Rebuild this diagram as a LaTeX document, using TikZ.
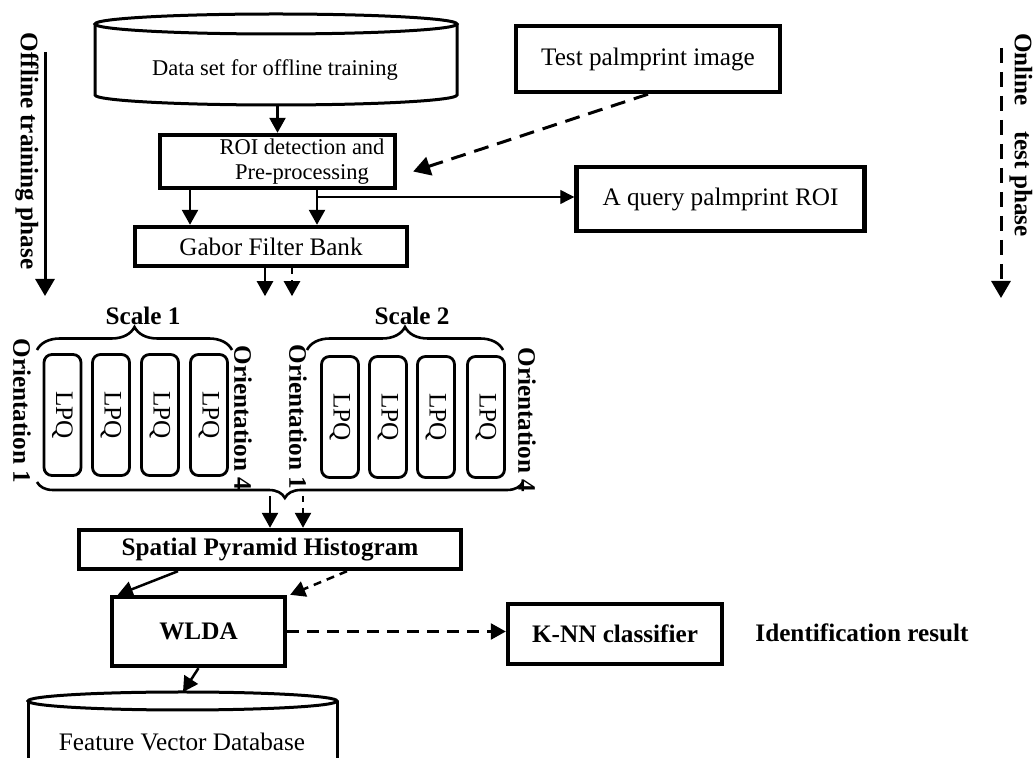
\documentclass[tikz,border=0pt]{standalone}
\usepackage{fontspec}
\setmainfont{Liberation Serif}
\usetikzlibrary{arrows.meta,decorations.pathreplacing}

\begin{document}
\begin{tikzpicture}[x=0.5pt,y=-0.5pt,
    box/.style={draw, line width=2.2pt, inner sep=0pt, align=center},
    lpqbox/.style={draw, line width=1.4pt, rounded corners=4pt, rotate=-90, inner sep=0pt, minimum width=60.5pt, minimum height=18.5pt},
    vlabel/.style={rotate=-90, font=\bfseries, inner sep=1pt},
    arr/.style={line width=1.25pt, -{Triangle[length=7.5pt,width=8pt]}},
    darr/.style={arr, dash pattern=on 4pt off 3pt},
    thinarr/.style={line width=0.6pt, -{Triangle[length=7pt,width=7pt]}},
    bigarr/.style={line width=1.5pt, -{Triangle[length=8.5pt,width=9.5pt]}},
    bigdarr/.style={bigarr, dash pattern=on 7.5pt off 4.5pt},
    brc/.style={decorate, decoration={brace, amplitude=11.5pt}, line width=1.3pt}]
                        \useasboundingbox (0,0) rectangle (1035,758);
                        {\fontsize{12.6}{14.5}\selectfont

                        % Drawing cylinder Data set
                        \draw [line width=1.5pt] (95,24) -- (95,95) arc[start angle=180, end angle=0, x radius=181, y radius=10] -- (457,24);%
                        \draw [line width=1.5pt] (276,24) ellipse[x radius=181, y radius=10];%
                        \node [font=\fontsize{11.25}{13.5}\selectfont] (dataset) at (275,70) {Data set for offline training};%
                        \coordinate (dsbot) at (277.5,105);%

                        % Drawing boxes of the upper part
                        \node [box, minimum width=132pt, minimum height=33pt] (test) at (648,59) {Test palmprint image};%
                        \node [box, minimum width=117.5pt, minimum height=26.5pt] (roi) at (277.5,161.5) {};%
                        \node [font=\fontsize{11.25}{12.5}\selectfont, align=center] (roitext) at (302,162) {ROI detection and\\Pre-processing};%
                        \node [box, minimum width=136pt, minimum height=19.5pt] (gabor) at (271,246.5) {Gabor Filter Bank};%
                        \node [box, minimum width=144pt, minimum height=32pt] (query) at (720.5,199) {A query palmprint ROI};%

                        % Drawing arrows of the upper part
                        \draw [arr] (dsbot) -- (roi.north);%
                        \draw [bigdarr] (test.south) -- ([xshift=8pt,yshift=-5pt]roi.east);%
                        \draw [arr] ([xshift=-43.75pt]roi.south) -- ([xshift=-43.75pt]roi.south |- gabor.north);%
                        \coordinate (split) at (317,197);%
                        \draw [line width=1pt] (split |- roi.south) -- (split);%
                        \draw [arr] (split) -- (split |- gabor.north);%
                        \draw [thinarr] (split) -- (split -| query.west);%
                        \draw [arr] ([xshift=-3pt]gabor.south) -- ++(0,28);%
                        \draw [darr, dash pattern=on 3pt off 3pt] ([xshift=10.5pt]gabor.south) -- ++(0,28);%

                        % Marking the two phases
                        \node [vlabel] (offline) at (27,151) {Offline training phase};%
                        \coordinate (offtop) at (45,52);%
                        \coordinate (offbot) at (45,296);%
                        \draw [bigarr] (offtop) -- (offbot);%
                        \node [vlabel] (online) at (1021,135) {Online\quad test phase};%
                        \coordinate (ontop) at (1001,48);%
                        \coordinate (onbot) at (1001,298);%
                        \draw [bigdarr] (ontop) -- (onbot);%

                        % Drawing scale 1
                        \node [font=\bfseries] (scalea) at (143,316) {Scale 1};%
                        \draw [brc] (37,350) -- (232,350);%
                        \node [lpqbox] (lpqa) at (62.5,415) {LPQ};%
                        \node [lpqbox] (lpqb) at (111,415) {LPQ};%
                        \node [lpqbox] (lpqc) at (160,415) {LPQ};%
                        \node [lpqbox] (lpqd) at (209,415) {LPQ};%
                        \node [vlabel] (orienta1) at (22,411) {Orientation 1};%
                        \node [vlabel] (orienta4) at (243,418) {Orientation 4};%

                        % Drawing scale 2
                        \node [font=\bfseries] (scaleb) at (412,316) {Scale 2};%
                        \draw [brc] (307,350) -- (503,350);%
                        \node [lpqbox] (lpqe) at (340,417) {LPQ};%
                        \node [lpqbox] (lpqf) at (388,417) {LPQ};%
                        \node [lpqbox] (lpqg) at (436,417) {LPQ};%
                        \node [lpqbox] (lpqh) at (486,417) {LPQ};%
                        \node [vlabel] (orientb1) at (298,417) {Orientation 1};%
                        \node [vlabel] (orientb4) at (527,420) {Orientation 4};%

                        % Drawing brace under both scales
                        \draw [brc, decoration={amplitude=8pt, aspect=0.49}] (523,482) -- (37,482);%

                        % Drawing boxes of the lower part
                        \node [box, font=\bfseries, minimum width=191pt, minimum height=19.5pt] (sph) at (270,549.5) {Spatial Pyramid Histogram};%
                        \node [box, font=\bfseries, minimum width=86.5pt, minimum height=34.5pt] (wlda) at (198.5,631.5) {WLDA};%
                        \node [box, font=\bfseries, minimum width=107pt, minimum height=30pt] (knn) at (615,634) {K-NN classifier};%
                        \node [font=\bfseries] (ident) at (862,633) {Identification result};%

                        % Drawing cylinder Feature Vector Database
                        \draw [line width=1.5pt] (28,701) -- (28,775);%
                        \draw [line width=1.5pt] (337,701) -- (337,775);%
                        \draw [line width=1.5pt] (182.5,701) ellipse[x radius=154.5, y radius=9];%
                        \node (fvd) at (182,742) {Feature Vector Database};%
                        \coordinate (fvdtop) at (183,692);%

                        % Drawing arrows of the lower part
                        \draw [arr] ([yshift=16pt]sph.north) -- (sph.north);%
                        \draw [darr, dash pattern=on 3pt off 3pt] ([xshift=16.5pt,yshift=16pt]sph.north) -- ([xshift=16.5pt]sph.north);%
                        \draw [arr] ([xshift=-46pt]sph.south) -- ([xshift=4pt]wlda.north west);%
                        \draw [darr] ([xshift=38.5pt]sph.south) -- ([xshift=1.5pt]wlda.north east);%
                        \draw [darr, dash pattern=on 6pt off 4pt] (wlda.east) -- (wlda.east -| knn.west);%
                        \draw [arr] (wlda.south) -- (fvdtop);%
                        }
                    \end{tikzpicture}
\end{document}
